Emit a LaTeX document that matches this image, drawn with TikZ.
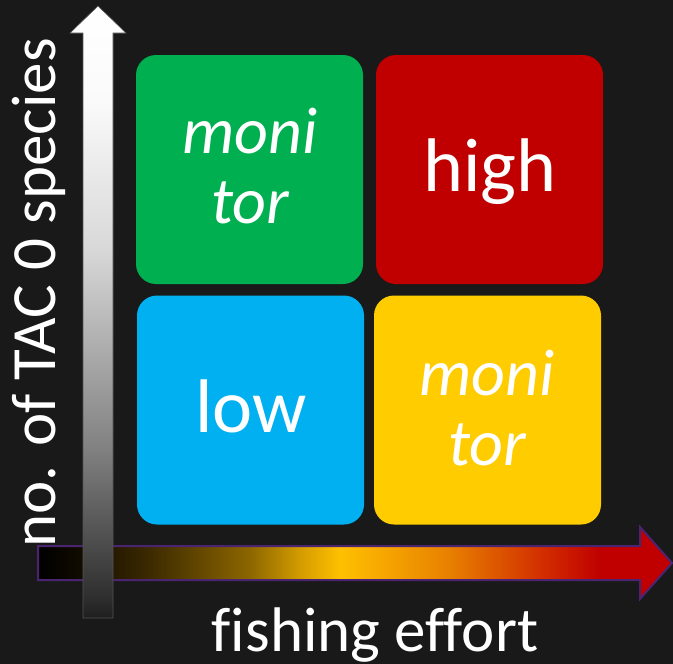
\documentclass[tikz,border=0pt]{standalone}
\usepackage{fontspec}
\setmainfont{Carlito}[Ligatures=NoCommon]
\definecolor{bg}{HTML}{191919}
\definecolor{cgreen}{HTML}{00B050}
\definecolor{cred}{HTML}{C00000}
\definecolor{cblue}{HTML}{00B0F0}
\definecolor{cyellow}{HTML}{FFCC00}
\definecolor{cpurple}{HTML}{4A2470}
\pgfdeclarehorizontalshading{effort}{100bp}{%
  color(0bp)=(black); color(25bp)=(black);
  color(28bp)=({rgb,255:red,15;green,10;blue,0});
  color(33.8bp)=({rgb,255:red,60;green,42;blue,0});
  color(41.7bp)=({rgb,255:red,140;green,102;blue,0});
  color(45.6bp)=({rgb,255:red,210;green,155;blue,0});
  color(48.8bp)=({rgb,255:red,255;green,192;blue,0});
  color(57.4bp)=({rgb,255:red,232;green,128;blue,0});
  color(65.3bp)=({rgb,255:red,208;green,40;blue,0});
  color(69.3bp)=({rgb,255:red,192;green,0;blue,0});
  color(75bp)=({rgb,255:red,192;green,0;blue,0});
  color(100bp)=({rgb,255:red,192;green,0;blue,0})}
\pgfdeclareverticalshading{grayup}{100bp}{%
  color(0bp)=({rgb,255:red,30;green,30;blue,30});
  color(25bp)=({rgb,255:red,30;green,30;blue,30});
  color(26.5bp)=({rgb,255:red,45;green,45;blue,45});
  color(38.7bp)=({rgb,255:red,128;green,128;blue,128});
  color(55.1bp)=({rgb,255:red,216;green,216;blue,216});
  color(67.3bp)=({rgb,255:red,250;green,250;blue,250});
  color(75bp)=(white); color(100bp)=(white)}
\tikzset{
  quad/.style={rounded corners=20pt, minimum width=227pt, minimum height=229pt, inner sep=0pt},
  boxtext/.style={text=white, font=\fontsize{76}{76}\selectfont, anchor=base, inner sep=0pt},
  montext/.style={text=white, font=\fontsize{66}{70}\selectfont\itshape, align=center, anchor=base, inner sep=0pt},
  axistext/.style={text=white, font=\fontsize{63}{63}\selectfont, inner sep=0pt}
}
\begin{document}
\begin{tikzpicture}[x=1pt,y=-1pt]
\fill[bg] (0,0) rectangle (673,664);
\useasboundingbox (0,0) rectangle (673,664);
% boxes
\node[quad, fill=cgreen] (green) at (249.5,169.5) {};
\node[quad, fill=cred] (red) at (489.5,169.5) {};
\node[quad, fill=cblue] (blue) at (250.5,410) {};
\node[quad, fill=cyellow] (yellow) at (487.5,410) {};
\node[montext] (t1) at (250,223) {moni\\tor};
\node[boxtext] (t2) at (490,191) {high};
\node[boxtext] (t3) at (251,432) {low};
\node[montext] (t4) at (487,465) {moni\\tor};
% horizontal arrow
\shade[shading=effort, draw=cpurple, line width=2pt]
  (38,546) -- (640,546) -- (640,527) -- (672,563) -- (640,599) -- (640,580) -- (38,580) -- cycle;
% vertical arrow
\shade[shading=grayup, draw=white!25!bg, line width=0.6pt]
  (83,618) -- (83,33) -- (70,33) -- (98,6) -- (126,33) -- (113,33) -- (113,618) -- cycle;
% labels
\node[axistext, rotate=90, anchor=base west] (ylab) at (56,548) {no. of TAC 0 species};
\node[axistext, anchor=base] (xlab) at (375,651) {fishing effort};
\end{tikzpicture}
\end{document}
